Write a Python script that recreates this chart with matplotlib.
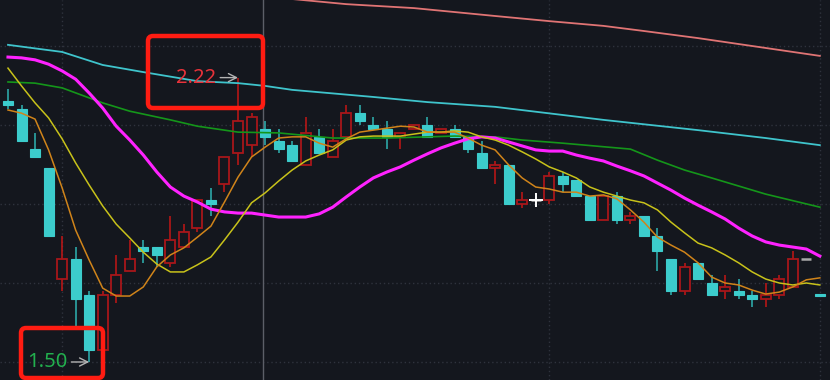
#K线图 + 均线
import numpy as np
import matplotlib.pyplot as plt
from matplotlib.patches import FancyBboxPatch
from matplotlib.transforms import IdentityTransform

# 日K数据 (开 高 低 收)
opens = [2.16, 2.14, 2.04, 1.99, 1.71, 1.76, 1.67, 1.53, 1.67, 1.73,
         1.79, 1.79, 1.75, 1.79, 1.84, 1.91, 1.95, 2.03, 2.05, 2.09,
         2.06, 2.05, 2.00, 2.07, 2.02, 2.07, 2.13, 2.10, 2.09, 2.07,
         2.09, 2.10, 2.08, 2.09, 2.07, 2.03, 1.99, 2.00, 1.90, 1.91,
         1.91, 1.97, 1.96, 1.92, 1.86, 1.92, 1.86, 1.87, 1.82, 1.76,
         1.68, 1.75, 1.70, 1.68, 1.68, 1.67, 1.66, 1.67, 1.69, 1.76, 1.672]
highs = [2.19, 2.15, 2.08, 1.99, 1.82, 1.79, 1.68, 1.68, 1.77, 1.81,
         1.81, 1.79, 1.87, 1.85, 1.91, 1.94, 2.02, 2.22, 2.13, 2.11,
         2.09, 2.06, 2.12, 2.09, 2.09, 2.15, 2.15, 2.12, 2.11, 2.08,
         2.10, 2.12, 2.09, 2.10, 2.07, 2.06, 2.01, 2.00, 1.93, 1.91,
         1.98, 1.98, 1.96, 1.92, 1.92, 1.93, 1.88, 1.87, 1.84, 1.76,
         1.75, 1.75, 1.72, 1.72, 1.71, 1.68, 1.70, 1.72, 1.78, 1.76, 1.672]
lows = [2.14, 2.06, 2.02, 1.82, 1.68, 1.59, 1.50, 1.53, 1.65, 1.73,
        1.75, 1.74, 1.74, 1.79, 1.83, 1.87, 1.93, 2.00, 2.02, 2.05,
        2.03, 2.01, 2.00, 2.03, 2.02, 2.07, 2.10, 2.09, 2.04, 2.04,
        2.09, 2.07, 2.08, 2.07, 2.03, 1.99, 1.95, 1.90, 1.89, 1.91,
        1.90, 1.93, 1.92, 1.86, 1.86, 1.85, 1.85, 1.82, 1.73, 1.67,
        1.67, 1.71, 1.67, 1.66, 1.66, 1.64, 1.64, 1.66, 1.69, 1.76, 1.668]
closes = [2.15, 2.06, 2.02, 1.82, 1.76, 1.66, 1.53, 1.67, 1.72, 1.76,
          1.78, 1.77, 1.81, 1.83, 1.91, 1.90, 2.02, 2.11, 2.12, 2.07,
          2.04, 2.01, 2.08, 2.03, 2.06, 2.13, 2.11, 2.09, 2.07, 2.08,
          2.10, 2.07, 2.09, 2.07, 2.04, 1.99, 2.00, 1.90, 1.91, 1.91,
          1.97, 1.95, 1.92, 1.86, 1.92, 1.86, 1.87, 1.82, 1.78, 1.68,
          1.74, 1.71, 1.67, 1.69, 1.67, 1.66, 1.67, 1.71, 1.76, 1.76, 1.668]

# 均线 (每根K线一个值)
ma5 = [2.138, 2.130, 2.115, 2.037, 1.941, 1.834, 1.758, 1.687, 1.667, 1.667,
       1.690, 1.741, 1.771, 1.789, 1.816, 1.844, 1.905, 1.968, 2.019, 2.044,
       2.067, 2.070, 2.070, 2.054, 2.044, 2.065, 2.082, 2.087, 2.092, 2.097,
       2.095, 2.082, 2.082, 2.082, 2.067, 2.049, 2.037, 1.999, 1.966, 1.943,
       1.938, 1.930, 1.930, 1.920, 1.923, 1.913, 1.885, 1.854, 1.816, 1.796,
       1.778, 1.751, 1.715, 1.700, 1.695, 1.682, 1.672, 1.677, 1.690, 1.708, 1.713]
ma10 = [2.244, 2.199, 2.156, 2.118, 2.065, 2.004, 1.948, 1.895, 1.849, 1.814,
        1.778, 1.748, 1.728, 1.728, 1.746, 1.766, 1.809, 1.854, 1.903, 1.928,
        1.958, 1.986, 2.009, 2.024, 2.037, 2.062, 2.070, 2.072, 2.072, 2.072,
        2.077, 2.082, 2.082, 2.085, 2.082, 2.070, 2.062, 2.049, 2.032, 2.014,
        1.994, 1.981, 1.966, 1.943, 1.930, 1.920, 1.910, 1.903, 1.885, 1.854,
        1.827, 1.801, 1.789, 1.771, 1.751, 1.728, 1.710, 1.700, 1.695, 1.700, 1.695]
ma20 = [2.272, 2.270, 2.265, 2.254, 2.237, 2.216, 2.181, 2.143, 2.097, 2.062,
        2.024, 1.981, 1.943, 1.920, 1.905, 1.887, 1.880, 1.877, 1.877, 1.872,
        1.867, 1.867, 1.867, 1.875, 1.892, 1.918, 1.943, 1.966, 1.981, 1.994,
        2.011, 2.027, 2.042, 2.054, 2.065, 2.070, 2.067, 2.057, 2.047, 2.037,
        2.034, 2.034, 2.024, 2.016, 2.009, 1.996, 1.984, 1.971, 1.953, 1.935,
        1.915, 1.897, 1.880, 1.862, 1.839, 1.819, 1.804, 1.796, 1.791, 1.786, 1.768]

# 长周期均线 (取样点)
ma60_i = [0, 2, 4, 7, 9, 12, 14, 17, 20, 24, 28, 33, 36, 38, 41, 46, 48, 50, 52, 56, 60]
ma60 = [2.209, 2.206, 2.194, 2.156, 2.135, 2.113, 2.097, 2.082, 2.080, 2.067, 2.067,
        2.072, 2.070, 2.062, 2.054, 2.039, 2.011, 1.986, 1.966, 1.925, 1.892]
ma120_i = [0, 4, 7, 10, 14, 17, 19, 21, 27, 31, 36, 44, 51, 56, 60]
ma120 = [2.303, 2.285, 2.252, 2.234, 2.211, 2.206, 2.199, 2.189, 2.171, 2.158,
         2.146, 2.113, 2.087, 2.067, 2.049]
ma250_i = [21, 25, 30, 36, 40, 44, 47, 51, 55, 59, 60]
ma250 = [2.419, 2.406, 2.396, 2.376, 2.363, 2.351, 2.338, 2.320, 2.300, 2.280, 2.275]

grid_prices = [1.5, 1.7, 1.9, 2.1, 2.3]
grid_days = [4, 40, 60]
sep_day = 18.85
cursor_day = 39

bg = '#14171e'
up_c = '#a8161a'
up_wick = '#c41616'
dn_c = '#3ccccc'
flat_c = '#a8a8a8'

fig = plt.figure(figsize=(8.3, 3.8), dpi=100, facecolor=bg)
ax = fig.add_axes([0, 0, 1, 1], facecolor=bg)
ax.set_xlim(-0.59, 60.75)
ax.set_ylim(1.4544, 2.4165)
ax.axis('off')

for p in grid_prices:
    ax.axhline(p, color='#2f333d', lw=1, ls=(0, (1, 2)), zorder=0)
for d in grid_days:
    ax.axvline(d, color='#2f333d', lw=1, ls=(0, (1, 2)), zorder=0)
ax.axvline(sep_day, color='#5c5f68', lw=1, zorder=0.5)

x = np.arange(len(opens))
o = np.array(opens); h = np.array(highs); l = np.array(lows); c = np.array(closes)
w = 0.74
up = c > o
dn = c < o
fl = c == o
top = np.maximum(o, c)
bot = np.minimum(o, c)

# 影线
ax.vlines(x[up], top[up], h[up], color=up_wick, lw=1.1, zorder=2)
ax.vlines(x[up], l[up], bot[up], color=up_wick, lw=1.1, zorder=2)
ax.vlines(x[dn], l[dn], h[dn], color='#2fb4b4', lw=1.1, zorder=2)
# 实体
ax.bar(x[up], (c - o)[up], bottom=o[up], width=w, facecolor=bg, edgecolor=up_c, lw=1.3, zorder=3)
ax.bar(x[dn], (o - c)[dn], bottom=c[dn], width=w, facecolor=dn_c, edgecolor=dn_c, lw=0.8, zorder=3)
ax.hlines(o[fl], x[fl] - w / 2, x[fl] + w / 2, color=flat_c, lw=1.8, zorder=3)

# 均线
ax.plot(ma250_i, ma250, color='#e07474', lw=1.3, zorder=4)
ax.plot(ma120_i, ma120, color='#3fc4cc', lw=1.3, zorder=4)
ax.plot(ma60_i, ma60, color='#14961a', lw=1.2, zorder=4)
ax.plot(x, ma20, color='#ff22ff', lw=2.2, zorder=5)
ax.plot(x, ma10, color='#c8c21a', lw=1.1, zorder=5)
ax.plot(x, ma5, color='#d0841a', lw=1.1, zorder=5)

# 鼠标十字
ax.plot([cursor_day], [o[cursor_day]], marker='+', ms=10, mew=1.4, color='white', zorder=6)

# 最高/最低价标注
hi_i = int(np.argmax(h))
lo_i = int(np.argmin(l))
arrow = dict(arrowstyle='->', color='#b4b4b4', lw=1, shrinkA=1, shrinkB=0)
ax.annotate(f'{h[hi_i]:.2f}', xy=(hi_i, h[hi_i]), xytext=(-22, 0), textcoords='offset pixels',
            ha='right', va='center', color='#e8323a', fontsize=14.5, family='Noto Sans',
            arrowprops=arrow, zorder=7)
ax.annotate(f'{l[lo_i]:.2f}', xy=(lo_i, l[lo_i]), xytext=(-22, 0), textcoords='offset pixels',
            ha='right', va='center', color='#22b04e', fontsize=14.5, family='Noto Sans',
            arrowprops=arrow, zorder=7)

# 红框 (像素坐标)
for bx, by, bw, bh in [(148, 380 - 108, 115, 72), (21, 380 - 378, 82, 50)]:
    fig.patches.append(FancyBboxPatch((bx, by), bw, bh, boxstyle='round,pad=0,rounding_size=5',
                                      transform=IdentityTransform(), fill=False,
                                      edgecolor='#ff1c12', lw=3.2, zorder=10))

fig.savefig('out.png', dpi=100, facecolor=bg)
